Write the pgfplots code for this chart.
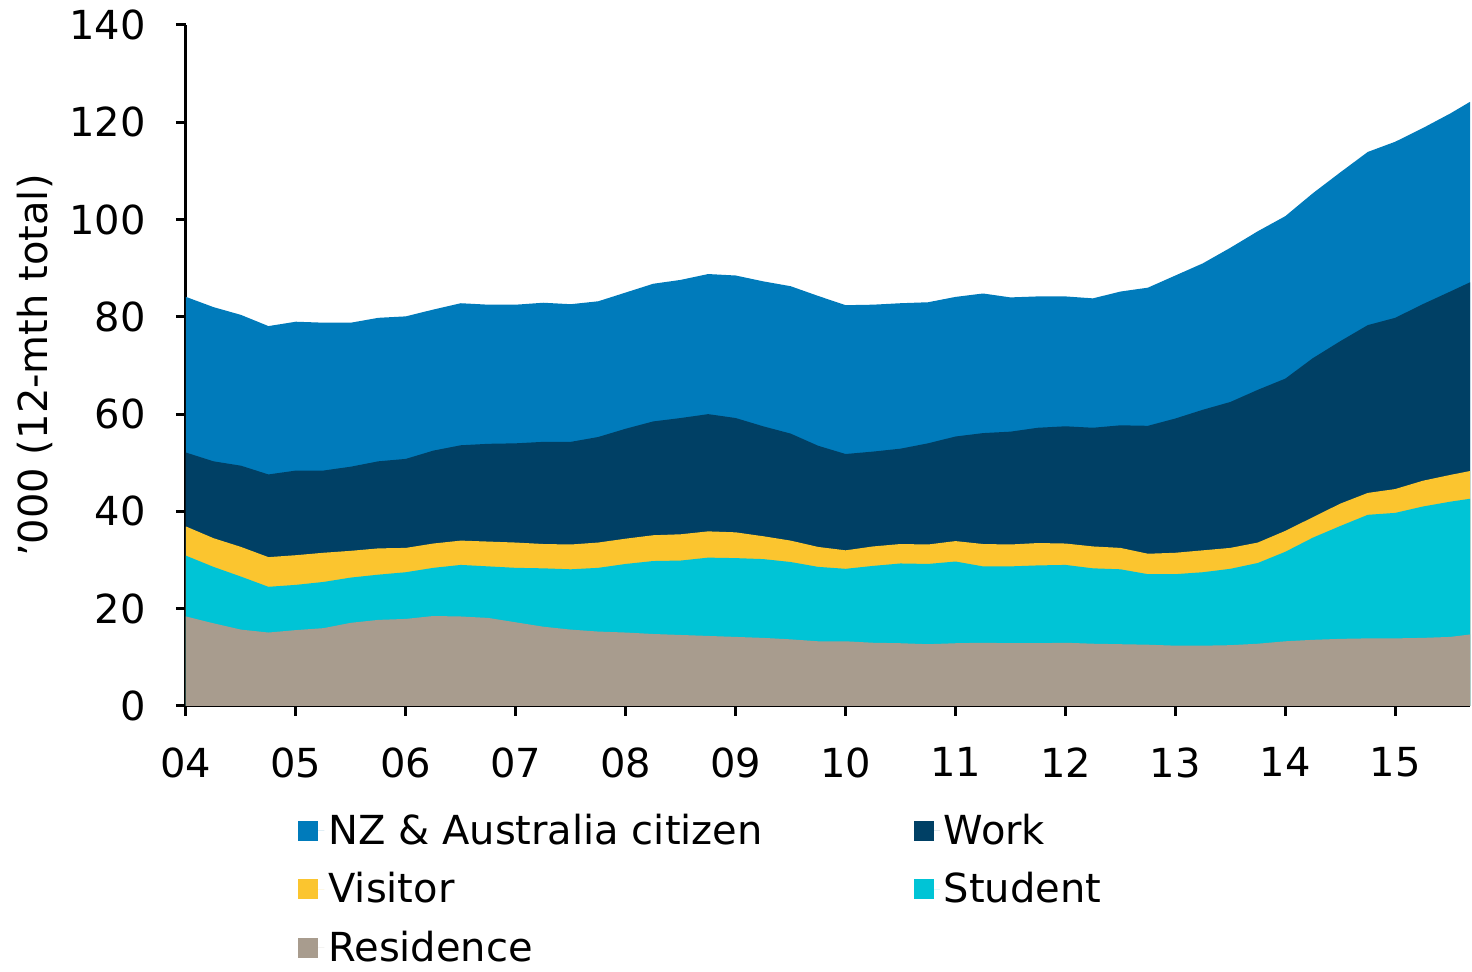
\documentclass[border=0pt]{standalone}
\usepackage{fontspec}
\setmainfont{DejaVu Sans}
\usepackage{pgfplots}
\usepackage{pgfplotstable}
\pgfplotsset{compat=1.18}

\definecolor{nzblue}{RGB}{0,123,187}
\definecolor{work}{RGB}{0,64,101}
\definecolor{visitor}{RGB}{251,197,47}
\definecolor{student}{RGB}{0,196,214}
\definecolor{residence}{RGB}{168,156,142}

% cumulative tops of each layer ('000, 12-month totals)
% t = years after 2000; T = total, W = top of Work, V = top of Visitor,
% S = top of Student, R = Residence
\pgfplotstableread{
t     T     W    V    S    R
4.00  84.1  52.1 36.9 30.9 18.4
4.25  82.0  50.3 34.5 28.6 17.0
4.50  80.4  49.4 32.7 26.6 15.7
4.75  78.1  47.6 30.6 24.5 15.1
5.00  79.0  48.4 31.0 24.9 15.6
5.25  78.8  48.4 31.5 25.5 16.0
5.50  78.8  49.2 31.9 26.4 17.1
5.75  79.8  50.3 32.4 27.0 17.7
6.00  80.1  50.8 32.5 27.5 17.9
6.25  81.5  52.5 33.4 28.4 18.5
6.50  82.8  53.6 34.0 29.0 18.4
6.75  82.5  53.9 33.8 28.7 18.1
7.00  82.5  54.0 33.6 28.4 17.2
7.25  82.9  54.3 33.3 28.3 16.3
7.50  82.6  54.3 33.2 28.1 15.7
7.75  83.2  55.3 33.6 28.4 15.3
8.00  85.0  57.0 34.4 29.2 15.1
8.25  86.8  58.5 35.1 29.8 14.8
8.50  87.6  59.2 35.3 29.9 14.6
8.75  88.8  60.0 35.9 30.5 14.4
9.00  88.5  59.2 35.7 30.4 14.2
9.25  87.3  57.5 34.9 30.2 14.0
9.50  86.3  56.0 34.0 29.6 13.7
9.75  84.3  53.5 32.7 28.6 13.3
10.00 82.4  51.8 32.0 28.2 13.3
10.25 82.5  52.3 32.8 28.8 13.0
10.50 82.8  52.9 33.3 29.3 12.9
10.75 83.0  54.0 33.2 29.2 12.7
11.00 84.1  55.4 33.9 29.7 12.9
11.25 84.8  56.1 33.3 28.7 13.0
11.50 84.0  56.4 33.2 28.7 12.9
11.75 84.2  57.2 33.5 28.9 12.9
12.00 84.2  57.5 33.4 29.0 13.0
12.25 83.8  57.2 32.8 28.3 12.8
12.50 85.2  57.7 32.5 28.1 12.7
12.75 86.0  57.6 31.3 27.1 12.6
13.00 88.5  59.1 31.5 27.1 12.4
13.25 91.0  60.9 32.0 27.5 12.4
13.50 94.2  62.5 32.5 28.2 12.5
13.75 97.6  65.0 33.6 29.4 12.8
14.00 100.7 67.3 36.0 31.7 13.3
14.25 105.4 71.5 38.8 34.6 13.6
14.50 109.7 75.0 41.6 37.0 13.8
14.75 113.9 78.3 43.8 39.3 13.9
15.00 116.0 79.8 44.6 39.7 13.9
15.25 118.8 82.6 46.3 41.0 14.0
15.50 121.8 85.2 47.5 42.0 14.2
15.68 124.2 87.1 48.3 42.6 14.7
}\migration

\begin{document}
\begin{tikzpicture}[font=\fontsize{20}{24}\selectfont]
\begin{axis}[
    name=ax,
    scale only axis,
    width=642pt, height=340.5pt,
    xmin=4, xmax=15.68,
    ymin=0, ymax=140,
    xtick={4,...,15},
    xticklabels={04,05,06,07,08,09,10,11,12,13,14,15},
    ytick={0,20,...,140},
    axis lines=left,
    axis line style={line width=1.5pt, -},
    tick style={line width=1.5pt, black},
    tick align=outside,
    major tick length=5pt,
    /pgf/number format/assume math mode=true,
    xticklabel style={anchor=north, inner sep=0pt, yshift=-15.5pt},
    yticklabel style={anchor=east, inner sep=0pt, xshift=-15pt},
    ylabel={'000 (12-mth total)},
    ylabel style={at={(axis description cs:-0.1176,0.5)}, anchor=center},
    legend columns=2,
    legend cell align=left,
    legend style={draw=none, fill=none, at={(axis description cs:0.0872,-0.1523)},
        anchor=north west, inner sep=0pt, row sep=8.5pt,
        /tikz/every even column/.append style={column sep=73.5pt}},
    legend image code/.code={\fill[#1] (0pt,-5pt) rectangle (10pt,5pt);
        \path (0pt,0pt) -- (13pt,0pt);},
]
\addplot[fill=nzblue, draw=none] table[x=t, y=T] {\migration} \closedcycle;
\addlegendentry{NZ \& Australia citizen}
\addplot[fill=work, draw=none] table[x=t, y=W] {\migration} \closedcycle;
\addlegendentry{Work}
\addplot[fill=visitor, draw=none] table[x=t, y=V] {\migration} \closedcycle;
\addlegendentry{Visitor}
\addplot[fill=student, draw=none] table[x=t, y=S] {\migration} \closedcycle;
\addlegendentry{Student}
\addplot[fill=residence, draw=none] table[x=t, y=R] {\migration} \closedcycle;
\addlegendentry{Residence}
\end{axis}
\pgfresetboundingbox
\path ([xshift=-93pt, yshift=353pt]ax.south west) rectangle ([xshift=643pt, yshift=-133pt]ax.south west);
\end{tikzpicture}
\end{document}
